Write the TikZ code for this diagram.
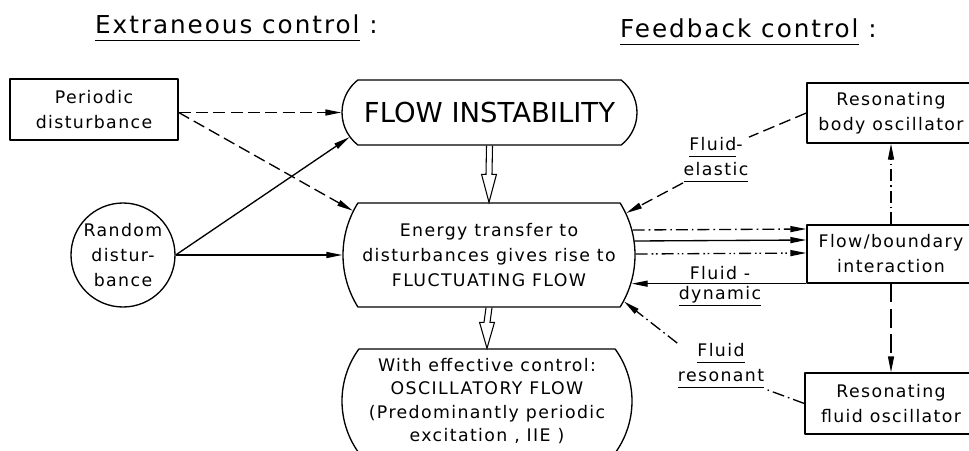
\documentclass[tikz,border=0pt]{standalone}
\usepackage{fontspec}
\setmainfont{DejaVu Sans}[LetterSpace=8]
\newfontfamily\tightfont{DejaVu Sans}
\usetikzlibrary{arrows.meta,shapes.misc,calc}
\newcommand{\ulabel}[1]{\underline{\vphantom{g}#1}}
\tikzset{
	box/.style={draw,rectangle,align=center,inner sep=0pt},
	pill/.style={draw,rounded rectangle,align=center,inner sep=0pt},
	lbl/.style={align=center,inner sep=0pt},
	hollow/.style={line width=.8pt,line join=miter},
	dashline/.style={dash pattern=on 9pt off 4pt},
	longdashline/.style={dash pattern=on 14pt off 5pt},
	dashdotline/.style={dash pattern=on 9pt off 3pt on 1.2pt off 3pt},
	dashdotdotline/.style={dash pattern=on 9pt off 3pt on 1.2pt off 2pt on 1.2pt off 3pt},
}
\begin{document}
\begin{tikzpicture}[x=.75pt,y=-.75pt,>={Triangle[length=12pt,width=4.5pt]},line width=1pt,line join=round,font={\fontsize{13pt}{18.75pt}\selectfont}]
	\useasboundingbox (0,0) rectangle (969,450);
	% titles
	\node[anchor=base west,font={\fontsize{18.5pt}{22pt}\selectfont}] (extitle) at (90,33) {\ulabel{Extraneous control} :};
	\node[anchor=base west,font={\fontsize{18.5pt}{22pt}\selectfont}] (fbtitle) at (615,37) {\ulabel{Feedback control} :};
	% extraneous control
	\node[box,minimum width=126pt,minimum height=45.75pt] (per) at (94,109.5) {Periodic\\disturbance};
	\node[draw,circle,align=center,inner sep=0pt,minimum size=78pt] (rand) at (123,255) {Random\\distur-\\bance};
	\node[pill,rounded rectangle arc length=104,minimum width=221.25pt,minimum height=48.75pt,font={\tightfont\fontsize{20.6pt}{24pt}\selectfont}] (inst) at (489.5,112.5) {FLOW INSTABILITY};
	\node[pill,rounded rectangle arc length=64,minimum width=219pt,minimum height=78pt] (energy) at (489,255) {Energy transfer to\\disturbances gives rise to\\FLUCTUATING FLOW};
	\node[pill,rounded rectangle arc length=72,minimum width=217.5pt,minimum height=78pt,font={\fontsize{13pt}{17.5pt}\selectfont}] (with) at (487,401) {With effective control:\\OSCILLATORY FLOW\\(Predominantly periodic\\excitation , IIE )};
	% feedback control
	\node[box,minimum width=126pt,minimum height=45pt] (body) at (891,113) {Resonating\\body oscillator};
	\node[box,minimum width=126pt,minimum height=43.5pt] (flow) at (891,254) {Flow/boundary\\interaction};
	\node[box,minimum width=129pt,minimum height=45.75pt] (osc) at (891,403.5) {Resonating\\fluid oscillator};
	\node[lbl] (elastic) at (716,160) {\ulabel{Fluid}-\\\ulabel{elastic}};
	\node[lbl] (dyn) at (720,286) {Fluid -\\[-3.75pt]\ulabel{dynamic}};
	\node[lbl] (reson) at (721,366) {\ulabel{Fluid}\\\ulabel{resonant}};
	% connectors
	\draw[dashline,->] (inst.west -| per.east) -- (inst.west);
	\draw[dashline,->] (inst.west -| per.east) -- (energy.162);
	\draw[->] (rand.east) -- (inst.190);
	\draw[->] (rand.east) -- (energy.west);
	\draw[hollow] ([xshift=-2.25pt]inst.south) -- ([xshift=-2.25pt,yshift=21pt]energy.north) -- ([xshift=-5.6pt,yshift=21pt]energy.north) -- (energy.north) -- ([xshift=5.6pt,yshift=21pt]energy.north) -- ([xshift=2.25pt,yshift=21pt]energy.north) -- ([xshift=2.25pt]inst.south);
	\draw[hollow] ([xshift=-2.25pt]energy.south) -- ([xshift=-2.25pt,yshift=19.5pt]with.north) -- ([xshift=-5.6pt,yshift=19.5pt]with.north) -- (with.north) -- ([xshift=5.6pt,yshift=19.5pt]with.north) -- ([xshift=2.25pt,yshift=19.5pt]with.north) -- ([xshift=2.25pt]energy.south);
	\draw[dashdotline,->] ([xshift=-2.25pt,yshift=18.75pt]energy.east) -- ([yshift=18.75pt]flow.west);
	\draw[->] ([xshift=-.75pt,yshift=10.5pt]energy.east) -- ([yshift=10.5pt]flow.west);
	\draw[dashdotdotline,->] ([yshift=.75pt]energy.east) -- ([yshift=.75pt]flow.west);
	\draw[->] (flow.south west) -- ([xshift=-3pt]energy.east |- flow.south west);
	\draw[dashline] (body.west) -- (elastic.north east);
	\draw[dashline,->] (elastic.south west) -- (energy.17);
	\draw[dashdotline] (osc.west) -- (reson.south east);
	\draw[dashdotline,->] (reson.north west) -- (energy.-19);
	\draw[dashdotline,->] (flow.north) -- (body.south);
	\draw[longdashline,->] (flow.south) -- (osc.north);
\end{tikzpicture}
\end{document}
